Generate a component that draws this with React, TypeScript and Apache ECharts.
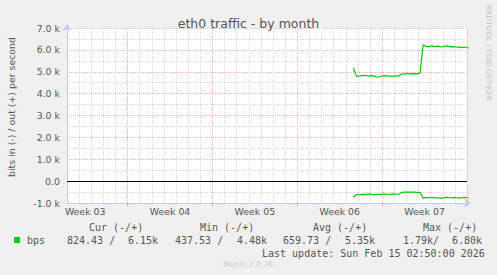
import React, { useEffect, useRef } from "react";
import * as echarts from "echarts";

// ---- data ----
const weekLabels = ["Week 03", "Week 04", "Week 05", "Week 06", "Week 07"];
const weekLabelDays = [1.5, 8.5, 15.5, 22.5, 29.5];
const weekStartDays = [5, 12, 19, 26, 33];
const rangeDays = 33;
const yMin = -1000;
const yMax = 7000;
const yStep = 1000;

const sampleStartDay = 23.625;
const sampleStepDays = 0.25;
const outBps = [
  5160, 4800, 4800, 4820, 4840, 4800, 4820, 4790, 4760, 4780, 4820, 4810, 4800,
  4800, 4800, 4810, 4900, 4900, 4920, 4900, 4910, 4900, 4930, 6220, 6160, 6140,
  6180, 6150, 6170, 6130, 6160, 6180, 6140, 6150, 6120, 6140, 6100, 6130, 6070,
];
const inBps = [
  -740, -620, -620, -610, -620, -580, -610, -620, -600, -610, -580, -600, -610,
  -580, -600, -600, -510, -500, -500, -500, -500, -510, -510, -780, -740, -760,
  -750, -770, -760, -790, -750, -740, -770, -740, -760, -780, -750, -740, -800,
];

const titleText = "eth0 traffic - by month";
const yAxisTitle = "bits in (-) / out (+) per second";
const sideText = "RRDTOOL / TOBI OETIKER";
const legendName = "bps";
const legendHeaders = ["Cur (-/+)", "Min (-/+)", "Avg (-/+)", "Max (-/+)"];
const legendIn = ["824.43", "437.53", "659.73", "1.79k"];
const legendOut = ["6.15k", "4.48k", "5.35k", "6.80k"];
const lastUpdate = "Last update: Sun Feb 15 02:50:00 2026";
const footer = "Munin 2.0.76";

const GREEN = "#00cc00";
const TXT = "#555555";
const SANS = "'DejaVu Sans', sans-serif";
const MONO = "'DejaVu Sans Mono', monospace";

export default function App() {
  const ref = useRef<HTMLDivElement>(null);
  useEffect(() => {
    if (!ref.current) return;
    const chart = echarts.init(ref.current, undefined, { renderer: "svg" });

    const outData = outBps.map((v, i) => [sampleStartDay + i * sampleStepDays, v]);
    const inData = inBps.map((v, i) => [sampleStartDay + i * sampleStepDays, v]);

    const headerX = [89, 200, 313, 423];
    const inX = [67, 175, 283, 403];
    const outX = [158, 267, 375, 482];
    const legendTexts: any[] = [];
    legendHeaders.forEach((h, i) => {
      legendTexts.push({
        type: "text", x: headerX[i], y: 227,
        style: { text: h, fill: TXT, font: `10px ${MONO}`, align: "left", verticalAlign: "middle" },
      });
      legendTexts.push({
        type: "text", x: inX[i], y: 240,
        style: { text: legendIn[i] + (i === 3 ? "/" : " /"), fill: TXT, font: `10px ${MONO}`, align: "left", verticalAlign: "middle" },
      });
      legendTexts.push({
        type: "text", x: outX[i], y: 240,
        style: { text: legendOut[i], fill: TXT, font: `10px ${MONO}`, align: "right", verticalAlign: "middle" },
      });
    });

    const axisColor = "#c4cbf0";
    const redGrid = "#eeb0b0";
    const grayGrid = "#d4d4d4";

    chart.setOption({
      animation: false,
      backgroundColor: "#f0f0f0",
      title: {
        text: titleText,
        left: "center",
        top: 12,
        textStyle: { color: TXT, fontFamily: SANS, fontSize: 12.5, fontWeight: "normal" },
      },
      grid: { left: 67, right: 30, top: 28, bottom: 72, show: true, backgroundColor: "#ffffff", borderWidth: 0 },
      xAxis: [
        {
          type: "value",
          min: 0,
          max: rangeDays,
          interval: 1,
          axisLine: { show: false },
          axisTick: { show: false },
          axisLabel: { show: false },
          splitLine: { show: true, lineStyle: { color: grayGrid, type: [1, 1], width: 1 } },
        },
        {
          type: "value",
          min: 0,
          max: rangeDays,
          position: "bottom",
          axisLine: {
            show: true,
            lineStyle: { color: axisColor, width: 1 },
            symbol: ["none", "arrow"],
            symbolSize: [7, 7],
            symbolOffset: [0, 4],
          },
          axisTick: {
            show: true,
            customValues: weekStartDays,
            length: 3,
            lineStyle: { color: "#e8a0a0" },
          },
          axisLabel: {
            show: true,
            customValues: weekLabelDays,
            formatter: (v: number) => {
              const idx = weekLabelDays.findIndex((d) => Math.abs(d - v) < 1e-6);
              return idx >= 0 ? weekLabels[idx] : "";
            },
            color: TXT,
            fontFamily: SANS,
            fontSize: 9.4,
            margin: 4,
          },
          splitLine: { show: false },
        },
      ],
      yAxis: {
        type: "value",
        min: yMin,
        max: yMax,
        interval: yStep,
        axisLine: {
          show: true,
          lineStyle: { color: axisColor, width: 1 },
          symbol: ["none", "arrow"],
          symbolSize: [7, 7],
          symbolOffset: [0, 4],
        },
        axisTick: { show: false },
        axisLabel: {
          color: TXT,
          fontFamily: SANS,
          fontSize: 9.4,
          margin: 7,
          formatter: (v: number) => (v === 0 ? "0.0" : (v / 1000).toFixed(1) + " k"),
        },
        splitLine: { show: true, lineStyle: { color: redGrid, type: [1, 1], width: 1 } },
        minorTick: { show: false, splitNumber: 2 },
        minorSplitLine: { show: true, lineStyle: { color: grayGrid, type: [1, 1], width: 1 } },
      },
      series: [
        {
          type: "line",
          xAxisIndex: 0,
          data: [],
          silent: true,
          markLine: {
            silent: true,
            symbol: "none",
            label: { show: false },
            lineStyle: { color: redGrid, type: [1, 1], width: 1 },
            data: weekStartDays.map((d) => ({ xAxis: d })),
          },
        },
        {
          type: "line",
          xAxisIndex: 0,
          data: [],
          silent: true,
          z: 3,
          markLine: {
            silent: true,
            symbol: "none",
            label: { show: false },
            lineStyle: { color: "#000000", type: "solid", width: 1.2 },
            data: [{ yAxis: 0 }],
          },
        },
        {
          type: "line",
          xAxisIndex: 0,
          data: outData,
          showSymbol: false,
          z: 4,
          lineStyle: { color: GREEN, width: 1.2 },
          itemStyle: { color: GREEN },
        },
        {
          type: "line",
          xAxisIndex: 0,
          data: inData,
          showSymbol: false,
          z: 4,
          lineStyle: { color: GREEN, width: 1.2 },
          itemStyle: { color: GREEN },
        },
      ],
      graphic: [
        {
          type: "text",
          x: 11,
          y: 107,
          rotation: Math.PI / 2,
          style: { text: yAxisTitle, fill: TXT, font: `9.4px ${SANS}`, align: "center", verticalAlign: "middle" },
        },
        {
          type: "text",
          x: 488,
          y: 53,
          rotation: -Math.PI / 2,
          style: { text: sideText, fill: "#c4c4c4", font: `7.5px ${SANS}`, align: "center", verticalAlign: "middle" },
        },
        {
          type: "rect",
          shape: { x: 14, y: 237, width: 6, height: 6 },
          style: { fill: GREEN },
        },
        {
          type: "text",
          x: 27,
          y: 240,
          style: { text: legendName, fill: TXT, font: `10px ${MONO}`, align: "left", verticalAlign: "middle" },
        },
        ...legendTexts,
        {
          type: "text",
          x: 262,
          y: 253,
          style: { text: lastUpdate, fill: TXT, font: `10px ${MONO}`, align: "left", verticalAlign: "middle" },
        },
        {
          type: "text",
          x: 248,
          y: 264,
          style: { text: footer, fill: "#cccccc", font: `7.6px ${SANS}`, align: "center", verticalAlign: "middle" },
        },
      ],
    });
    return () => chart.dispose();
  }, []);

  return (
    <div
      ref={ref}
      style={{ position: "fixed", left: 0, top: 0, width: 497, height: 275, background: "#f0f0f0" }}
    />
  );
}
